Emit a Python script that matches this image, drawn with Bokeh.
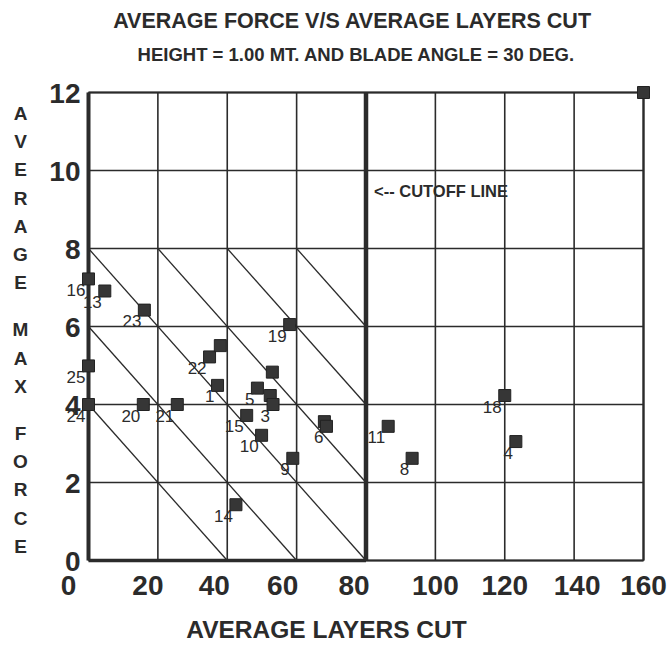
from bokeh.plotting import figure
from bokeh.models import Range1d
from bokeh.core.properties import value
from bokeh.embed import file_html
from bokeh.resources import INLINE

# ---------------- data ----------------
title_text = "AVERAGE FORCE V/S AVERAGE LAYERS CUT"
subtitle_text = "HEIGHT = 1.00 MT. AND BLADE ANGLE = 30 DEG."
x_title = "AVERAGE LAYERS CUT"
y_title = "AVERAGE MAX FORCE"
cutoff_text = "<-- CUTOFF LINE"

x_ticks = [0, 20, 40, 60, 80, 100, 120, 140, 160]
y_ticks = [0, 2, 4, 6, 8, 10, 12]
x_tick_labels = ["0", "20", "40", "60", "80", "100", "120", "140", "160"]
y_tick_labels = ["0", "2", "4", "6", "8", "10", "12"]

x_min, x_max = 0, 160
y_min, y_max = 0, 12
cutoff_layers = 80
diag_levels = [40, 60, 80, 100, 120, 140]   # iso-lines: layers + 10*force = level

layers = [0, 4.7, 16.1, 0, 0, 15.8, 25.6, 34.9, 38.0, 37.2, 45.6, 58.0, 53.0,
          48.7, 52.4, 53.2, 49.9, 58.9, 68.0, 68.6, 42.5, 86.4, 93.3, 120.0, 123.2, 160.0]
force = [7.22, 6.91, 6.42, 4.99, 4.0, 4.0, 4.0, 5.22, 5.51, 4.49, 3.72, 6.05, 4.83,
         4.42, 4.23, 4.0, 3.21, 2.62, 3.56, 3.44, 1.43, 3.44, 2.62, 4.23, 3.05, 12.0]
point_labels = ["16", "13", "23", "25", "24", "20", "21", "22", "", "1", "15", "19", "",
                "5", "", "3", "10", "9", "", "6", "14", "11", "8", "18", "4", ""]

# ---------------- layout (screen geometry of the plot area) ----------------
W, H = 670, 646
FL, FR, FT, FB = 88, 643, 92, 560          # plot-area edges in canvas pixels
PX_X = (FR - FL) / (x_max - x_min)
PX_Y = (FB - FT) / (y_max - y_min)


def xd(cx):
    return x_min + (cx - FL) / PX_X


def yd(cy):
    return y_min + (FB - cy) / PX_Y


FONT = "Liberation Sans"
INK = "#2b2b2b"

p = figure(width=W, height=H, x_range=Range1d(xd(0), xd(W)), y_range=Range1d(yd(H), yd(0)),
           output_backend="svg", toolbar_location=None, x_axis_type=None, y_axis_type=None,
           title=None, min_border=0)
p.outline_line_color = None
p.background_fill_color = "white"
p.border_fill_color = "white"

# grid
p.segment(x0=x_ticks, y0=[y_min] * len(x_ticks), x1=x_ticks, y1=[y_max] * len(x_ticks),
          line_color=INK, line_width=1.6)
p.segment(x0=[x_min] * len(y_ticks), y0=y_ticks, x1=[x_max] * len(y_ticks), y1=y_ticks,
          line_color=INK, line_width=1.6)

# diagonal iso-lines left of the cutoff
dx0, dy0, dx1, dy1 = [], [], [], []
for c in diag_levels:
    xa = max(x_min, c - cutoff_layers)
    xb = min(cutoff_layers, c)
    dx0.append(xa); dy0.append((c - xa) / 10)
    dx1.append(xb); dy1.append((c - xb) / 10)
p.segment(x0=dx0, y0=dy0, x1=dx1, y1=dy1, line_color=INK, line_width=1.3)

# frame: heavy left axis / left bottom / cutoff, lighter top and right
p.segment(x0=[x_min, x_max, cutoff_layers], y0=[y_max, y_min, y_min],
          x1=[x_max, x_max, x_max], y1=[y_max, y_max, y_min], line_color=INK, line_width=2.2)
p.segment(x0=[x_min], y0=[y_min], x1=[cutoff_layers], y1=[y_min], line_color=INK, line_width=3.5)
p.segment(x0=[x_min], y0=[y_min], x1=[x_min], y1=[y_max], line_color=INK, line_width=4)
p.segment(x0=[cutoff_layers], y0=[y_min], x1=[cutoff_layers], y1=[y_max],
          line_color=INK, line_width=4.5)

# tick labels
x_label_shift = [-20, -10, -13, -14, -12, 0, 0, 3, 0]
p.text(x=x_ticks, y=[y_min] * len(x_ticks), text=x_tick_labels, x_offset=x_label_shift,
       y_offset=25, text_align="center", text_baseline="middle",
       text_font=value(FONT), text_font_style="bold", text_font_size="28px", text_color=INK)
p.text(x=[x_min] * len(y_ticks), y=y_ticks, text=y_tick_labels, x_offset=-8, y_offset=1,
       text_align="right", text_baseline="middle",
       text_font=value(FONT), text_font_style="bold", text_font_size="28px", text_color=INK)

# point labels (under the markers) and markers
p.text(x=layers, y=force, text=point_labels, x_offset=-3, y_offset=5,
       text_align="right", text_baseline="top",
       text_font=value(FONT), text_font_size="17px", text_color=INK)
p.scatter(x=layers, y=force, marker="square", size=12,
          fill_color="#363636", line_color="#222222", line_width=1)

# cutoff annotation
p.text(x=[cutoff_layers], y=[yd(190)], text=[cutoff_text], x_offset=8,
       text_baseline="middle", text_font=value(FONT), text_font_style="bold",
       text_font_size="16.5px", text_color=INK)

# titles
p.text(x=[xd(352)], y=[yd(20)], text=[title_text], text_align="center", text_baseline="middle",
       text_font=value(FONT), text_font_style="bold", text_font_size="21.5px", text_color=INK)
p.text(x=[xd(356)], y=[yd(54)], text=[subtitle_text], text_align="center", text_baseline="middle",
       text_font=value(FONT), text_font_style="bold", text_font_size="18.5px", text_color=INK)
p.text(x=[xd(326)], y=[yd(629)], text=[x_title], text_align="center", text_baseline="middle",
       text_font=value(FONT), text_font_style="bold", text_font_size="24.5px", text_color=INK)

# vertical stacked y title
letters, ly = [], []
cy = 113.0
for ch in y_title:
    if ch == " ":
        cy += 19
        continue
    letters.append(ch)
    ly.append(yd(cy))
    cy += 28.2
p.text(x=[xd(20)] * len(letters), y=ly, text=letters, text_align="center", text_baseline="middle",
       text_font=value(FONT), text_font_style="bold", text_font_size="19px", text_color=INK)

open("out.html", "w").write(file_html(p, INLINE))
